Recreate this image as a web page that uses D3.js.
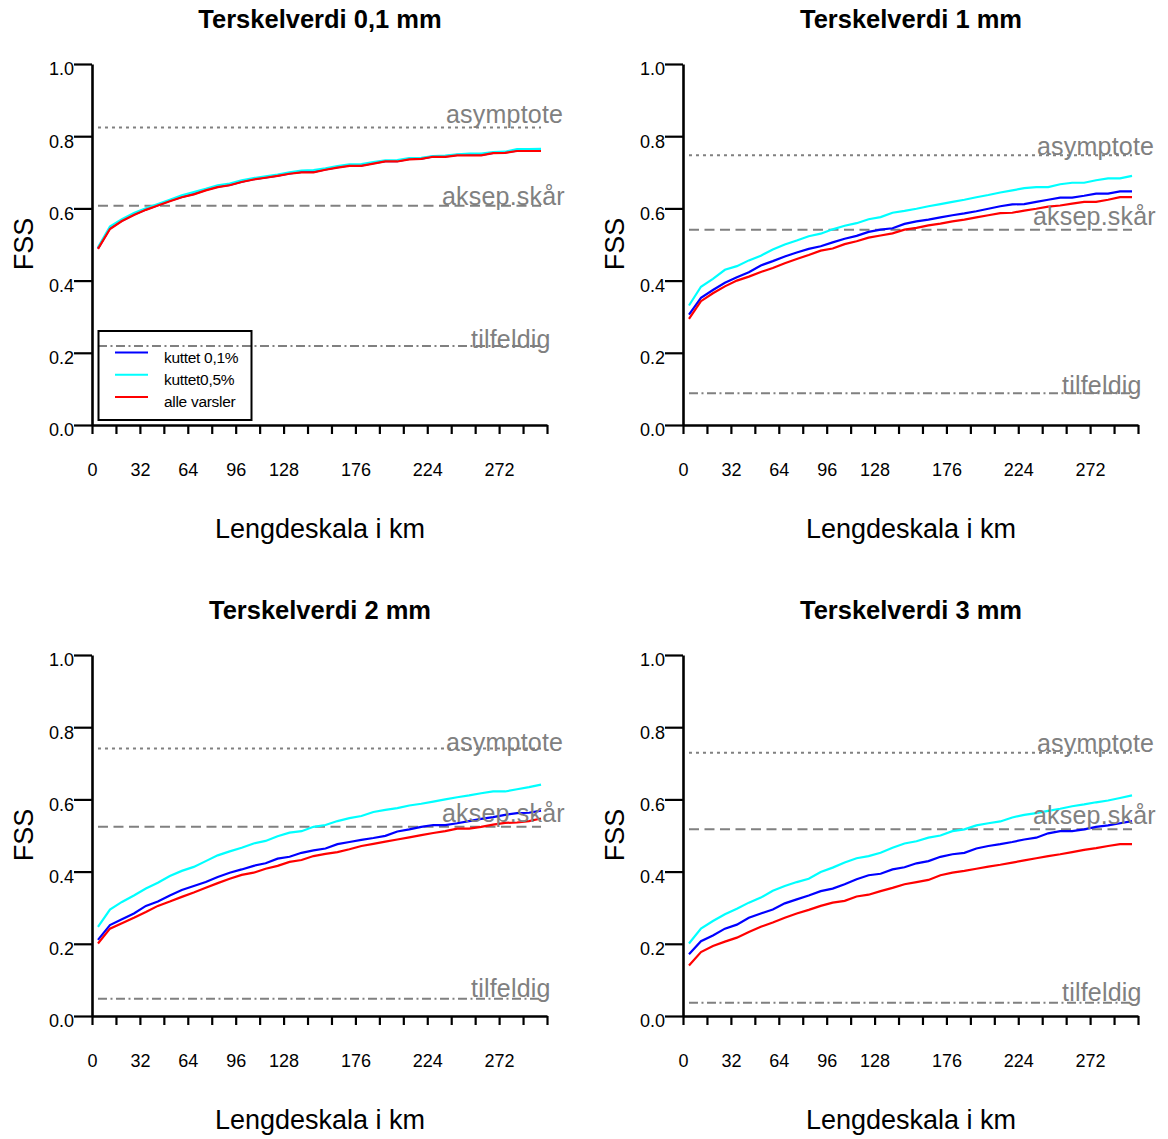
<!DOCTYPE html>
<meta charset="utf-8">
<script src="https://d3js.org/d3.v7.min.js"></script>
<style>
  body { margin: 0; background: #fff; }
  text { font-family: "Liberation Sans", Arial, sans-serif; }
</style>
<div id="my_dataviz"></div>
<script>

// lengdeskala (km) for each point
var scalesKm = [4, 12, 20, 28, 36, 44, 52, 60, 68, 76, 84, 92, 100, 108, 116, 124, 132, 140, 148,
  156, 164, 172, 180, 188, 196, 204, 212, 220, 228, 236, 244, 252, 260, 268, 276, 284, 292, 300];

var xTicks = [0, 16, 32, 48, 64, 80, 96, 112, 128, 144, 160, 176, 192, 208, 224, 240, 256, 272, 288, 304];
var xTickLabels = [0, 32, 64, 96, 128, 176, 224, 272];
var yTicks = [0, 0.2, 0.4, 0.6, 0.8, 1.0];

var titles = ["Terskelverdi 0,1 mm", "Terskelverdi 1 mm", "Terskelverdi 2 mm", "Terskelverdi 3 mm"];
var seriesNames = ["kuttet 0,1%", "kuttet0,5%", "alle varsler"];

// reference levels per panel
var asymptote = [0.824, 0.747, 0.741, 0.729];
var aksepSkaar = [0.607, 0.541, 0.524, 0.517];
var tilfeldig = [0.219, 0.088, 0.048, 0.037];

// 0,1 mm
var kuttet01_t01 = [0.489,0.545,0.566,0.583,0.597,0.609,0.621,0.632,0.640,0.651,0.660,0.665,0.674,0.681,0.686,0.691,0.697,0.701,0.701,0.708,0.714,0.719,0.719,0.725,0.731,0.731,0.737,0.738,0.744,0.744,0.748,0.748,0.748,0.754,0.755,0.760,0.760,0.760];
var kuttet05_t01 = [0.492,0.550,0.570,0.587,0.600,0.612,0.624,0.636,0.645,0.654,0.664,0.669,0.678,0.684,0.689,0.694,0.700,0.705,0.706,0.711,0.717,0.722,0.723,0.728,0.733,0.734,0.739,0.740,0.745,0.746,0.750,0.752,0.752,0.756,0.757,0.764,0.764,0.765];
var alle_t01 = [0.488,0.543,0.565,0.582,0.596,0.608,0.620,0.631,0.639,0.650,0.659,0.664,0.673,0.680,0.685,0.690,0.696,0.700,0.700,0.707,0.713,0.718,0.718,0.724,0.730,0.730,0.736,0.737,0.743,0.743,0.747,0.747,0.747,0.753,0.754,0.759,0.759,0.759];

// 1 mm
var kuttet01_t1 = [0.306,0.352,0.374,0.394,0.409,0.423,0.442,0.454,0.467,0.478,0.488,0.495,0.506,0.516,0.524,0.535,0.541,0.545,0.557,0.564,0.569,0.575,0.581,0.586,0.592,0.599,0.606,0.611,0.612,0.618,0.624,0.630,0.630,0.635,0.641,0.641,0.647,0.647];
var kuttet05_t1 = [0.331,0.383,0.405,0.430,0.440,0.456,0.469,0.486,0.500,0.511,0.523,0.530,0.542,0.552,0.559,0.570,0.576,0.588,0.593,0.599,0.606,0.612,0.618,0.624,0.631,0.637,0.644,0.650,0.656,0.659,0.659,0.667,0.671,0.671,0.678,0.683,0.683,0.690];
var alle_t1 = [0.294,0.343,0.365,0.384,0.400,0.411,0.424,0.435,0.448,0.460,0.471,0.483,0.489,0.501,0.509,0.519,0.525,0.531,0.541,0.546,0.553,0.558,0.564,0.569,0.575,0.581,0.587,0.588,0.594,0.599,0.605,0.608,0.613,0.618,0.618,0.624,0.631,0.631];

// 2 mm
var kuttet01_t2 = [0.211,0.252,0.268,0.284,0.305,0.317,0.334,0.349,0.360,0.371,0.385,0.397,0.406,0.416,0.423,0.436,0.441,0.452,0.459,0.464,0.476,0.482,0.488,0.493,0.499,0.511,0.517,0.524,0.529,0.529,0.534,0.540,0.546,0.551,0.557,0.562,0.563,0.569];
var kuttet05_t2 = [0.247,0.295,0.316,0.334,0.353,0.369,0.388,0.402,0.413,0.429,0.445,0.456,0.466,0.478,0.485,0.498,0.508,0.512,0.524,0.529,0.540,0.548,0.554,0.565,0.571,0.576,0.583,0.588,0.594,0.600,0.606,0.611,0.617,0.622,0.622,0.628,0.634,0.641];
var alle_t2 = [0.201,0.242,0.257,0.272,0.288,0.305,0.317,0.330,0.342,0.355,0.368,0.380,0.391,0.397,0.408,0.416,0.427,0.432,0.443,0.449,0.454,0.462,0.471,0.477,0.483,0.489,0.495,0.501,0.507,0.512,0.519,0.519,0.524,0.530,0.535,0.536,0.540,0.547];

// 3 mm
var kuttet01_t3 = [0.171,0.207,0.223,0.242,0.253,0.272,0.284,0.295,0.312,0.323,0.334,0.346,0.353,0.365,0.379,0.390,0.394,0.406,0.412,0.423,0.429,0.441,0.448,0.452,0.464,0.471,0.476,0.482,0.489,0.494,0.506,0.512,0.512,0.517,0.524,0.528,0.534,0.540];
var kuttet05_t3 = [0.201,0.242,0.263,0.282,0.297,0.314,0.328,0.347,0.360,0.371,0.380,0.399,0.411,0.425,0.437,0.443,0.452,0.466,0.478,0.484,0.494,0.500,0.512,0.517,0.528,0.534,0.539,0.550,0.557,0.562,0.568,0.574,0.581,0.586,0.592,0.597,0.604,0.611];
var alle_t3 = [0.140,0.177,0.194,0.206,0.217,0.233,0.247,0.259,0.272,0.284,0.294,0.305,0.314,0.319,0.331,0.336,0.346,0.355,0.365,0.371,0.377,0.390,0.397,0.402,0.408,0.414,0.419,0.425,0.431,0.437,0.443,0.448,0.454,0.460,0.465,0.471,0.476,0.476];

var panelSeries = [
  [kuttet01_t01, kuttet05_t01, alle_t01],
  [kuttet01_t1, kuttet05_t1, alle_t1],
  [kuttet01_t2, kuttet05_t2, alle_t2],
  [kuttet01_t3, kuttet05_t3, alle_t3]
];

var colors = ["#0000ff", "#00ffff", "#ff0000"];
var grey = "#808080";

// layout
var width = 1168, height = 1139;
var step = 591;
var x = d3.scaleLinear().domain([0, 304]).range([92, 547]);
var y = d3.scaleLinear().domain([0, 1]).range([425, 64]);

// label offsets (px) from the reference line, per panel
var labelDy = [
  { asym: -5, aksep: -1, tilf: 2 },
  { asym: 0, aksep: -5, tilf: 1 },
  { asym: 3, aksep: -5, tilf: -2 },
  { asym: -1, aksep: -5, tilf: -2 }
];

var svg = d3.select("#my_dataviz")
  .append("svg")
  .attr("width", width)
  .attr("height", height);

svg.append("rect").attr("width", width).attr("height", height).attr("fill", "#fff");

svg.append("defs").append("clipPath").attr("id", "panelClip")
  .append("rect").attr("x", 0).attr("y", 0).attr("width", 567).attr("height", 580);

var line = d3.line()
  .x(function (d, i) { return x(scalesKm[i]); })
  .y(function (d) { return y(d); });

titles.forEach(function (title, p) {
  var g = svg.append("g")
    .attr("transform", "translate(" + (p % 2) * step + "," + Math.floor(p / 2) * step + ")")
    .append("g")
    .attr("clip-path", "url(#panelClip)");

  // title
  g.append("text")
    .attr("x", 320)
    .attr("y", 28)
    .attr("text-anchor", "middle")
    .style("font-size", "25.5px")
    .style("font-weight", "bold")
    .text(title);

  // axes
  var yAxis = g.append("g")
    .attr("transform", "translate(" + x(0) + ",0)")
    .call(d3.axisLeft(y).tickValues(yTicks).tickFormat(d3.format(".1f"))
      .tickSize(18).tickSizeOuter(0).tickPadding(0));
  yAxis.select(".domain").attr("stroke-width", 2.6);
  yAxis.selectAll(".tick line").attr("stroke-width", 2.2);
  yAxis.selectAll("text")
    .attr("dy", "0.6em")
    .style("font-size", "18px")
    .style("font-family", "'Liberation Sans', Arial, sans-serif")
    .attr("fill", "#000");

  var xAxis = g.append("g")
    .attr("transform", "translate(0," + y(0) + ")")
    .call(d3.axisBottom(x).tickValues(xTicks)
      .tickFormat(function (d) { return xTickLabels.indexOf(d) >= 0 ? d : ""; })
      .tickSize(9).tickSizeOuter(0).tickPadding(29));
  xAxis.select(".domain").attr("stroke-width", 2.6);
  xAxis.selectAll(".tick line").attr("stroke-width", 2.2);
  xAxis.selectAll("text")
    .style("font-size", "18px")
    .style("font-family", "'Liberation Sans', Arial, sans-serif")
    .attr("fill", "#000");

  // axis titles
  g.append("text")
    .attr("x", 320)
    .attr("y", 538)
    .attr("text-anchor", "middle")
    .style("font-size", "27px")
    .text("Lengdeskala i km");

  g.append("text")
    .attr("transform", "translate(33,244) rotate(-90)")
    .attr("text-anchor", "middle")
    .style("font-size", "27px")
    .text("FSS");

  // reference lines
  var refs = [
    { v: asymptote[p], dash: "3,4", label: "asymptote", lx: 446, dy: labelDy[p].asym },
    { v: aksepSkaar[p], dash: "10,5.5", label: "aksep.skår", lx: 442, dy: labelDy[p].aksep },
    { v: tilfeldig[p], dash: "9,3.5,2,3.5", label: "tilfeldig", lx: 471, dy: labelDy[p].tilf }
  ];

  refs.forEach(function (r) {
    g.append("line")
      .attr("x1", x(scalesKm[0]))
      .attr("x2", x(scalesKm[scalesKm.length - 1]))
      .attr("y1", y(r.v))
      .attr("y2", y(r.v))
      .attr("stroke", grey)
      .attr("stroke-width", 2)
      .attr("stroke-dasharray", r.dash);
  });

  // data lines
  panelSeries[p].forEach(function (s, k) {
    g.append("path")
      .datum(s)
      .attr("d", line)
      .attr("fill", "none")
      .attr("stroke", colors[k])
      .attr("stroke-width", 2.2);
  });

  refs.forEach(function (r) {
    g.append("text")
      .attr("x", r.lx)
      .attr("y", y(r.v) + r.dy)
      .attr("fill", grey)
      .style("font-size", "25px")
      .style("letter-spacing", "0.2px")
      .text(r.label);
  });

  // legend only in first panel
  if (p === 0) {
    var lg = g.append("g");
    lg.append("rect")
      .attr("x", 98.5).attr("y", 331)
      .attr("width", 153).attr("height", 89)
      .attr("fill", "none")
      .attr("stroke", "#000")
      .attr("stroke-width", 2);
    seriesNames.forEach(function (name, k) {
      var ly = 352.5 + k * 22.3;
      lg.append("line")
        .attr("x1", 115).attr("x2", 148)
        .attr("y1", ly).attr("y2", ly)
        .attr("stroke", colors[k])
        .attr("stroke-width", 2);
      lg.append("text")
        .attr("x", 164)
        .attr("y", ly + 10)
        .style("font-size", "15.5px")
        .style("letter-spacing", "-0.3px")
        .text(name);
    });
  }
});
</script>
